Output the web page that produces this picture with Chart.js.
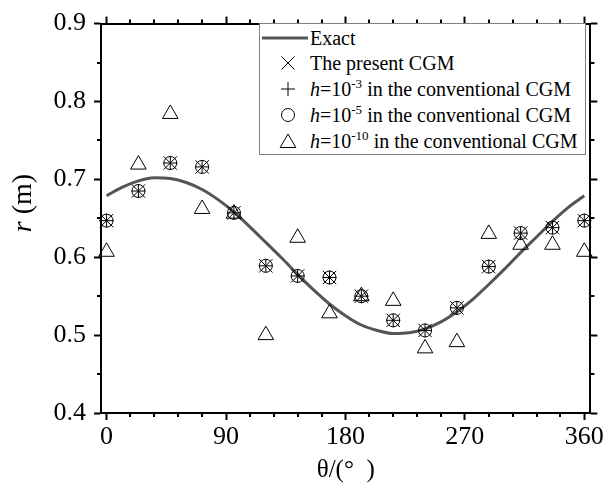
<!DOCTYPE html>
<html>
<head>
<meta charset="utf-8">
<script src="https://cdn.jsdelivr.net/npm/chart.js@4.4.1/dist/chart.umd.min.js"></script>
<style>
  html, body { margin: 0; padding: 0; background: #fff; }
  #wrap { position: relative; width: 606px; height: 485px; font-family: "Liberation Serif", serif; }
  canvas { position: absolute; left: 0; top: 0; }
  #ytitle { position: absolute; left: -28px; top: 188px; width: 100px; height: 30px; line-height: 30px;
            text-align: center; font-size: 28px; transform: rotate(-90deg); color: #000; white-space: nowrap; }
  #legend { position: absolute; left: 259px; top: 23px; width: 327px; height: 132px; box-sizing: border-box;
            border: 1px solid #808080; background: #fff; }
  .lrow { position: absolute; left: 0; height: 20px; width: 327px; }
  .lmark { position: absolute; left: 0; top: 0; }
  .ltext { position: absolute; left: 50px; top: 0; font-size: 20px; line-height: 20px; white-space: nowrap; color: #000; }
  .ltext sup { font-size: 13px; vertical-align: 0; position: relative; top: -8px; }
</style>
</head>
<body>
<div id="wrap">
  <canvas id="c" width="606" height="485"></canvas>
  <div id="ytitle"><i>r</i> (m)</div>
  <div id="legend"></div>
</div>
<script>
// ---- data ----
const thetaPoints = [0, 24, 48, 72, 96, 120, 144, 168, 192, 216, 240, 264, 288, 312, 336, 360];
const presentCGM  = [0.647, 0.685, 0.721, 0.716, 0.657, 0.589, 0.576, 0.574, 0.550, 0.519, 0.506, 0.535, 0.588, 0.631, 0.638, 0.647];
const convH3      = [0.647, 0.685, 0.721, 0.716, 0.657, 0.589, 0.576, 0.574, 0.550, 0.519, 0.506, 0.535, 0.588, 0.631, 0.638, 0.647];
const convH5      = [0.647, 0.685, 0.721, 0.716, 0.657, 0.589, 0.576, 0.574, 0.550, 0.519, 0.506, 0.535, 0.588, 0.631, 0.638, 0.647];
const convH10     = [0.607, 0.719, 0.784, 0.662, 0.656, 0.500, 0.625, 0.528, 0.550, 0.544, 0.483, 0.491, 0.630, 0.616, 0.616, 0.607];

const thetaExact = [0, 12, 24, 36, 48, 60, 72, 84, 96, 108, 120, 132, 144, 156, 168, 180,
                    192, 204, 216, 228, 240, 252, 264, 276, 288, 300, 312, 324, 336, 348, 360];
const rExact     = [0.679, 0.690, 0.698, 0.702, 0.701, 0.696, 0.687, 0.674, 0.658, 0.639, 0.619, 0.599, 0.578, 0.558, 0.540, 0.525,
                    0.513, 0.506, 0.502, 0.503, 0.508, 0.517, 0.530, 0.546, 0.565, 0.585, 0.606, 0.626, 0.646, 0.664, 0.679];

const xTickValues = [0, 90, 180, 270, 360];
const xMinorValues = [18, 36, 54, 72, 108, 126, 144, 162, 198, 216, 234, 252, 288, 306, 324, 342];
const yTickValues = [0.4, 0.5, 0.6, 0.7, 0.8, 0.9];
const yMinorValues = [0.45, 0.55, 0.65, 0.75, 0.85];

const legendLabels = [
  'Exact',
  'The present CGM',
  '<i>h</i>=10<sup>-3</sup> in the conventional CGM',
  '<i>h</i>=10<sup>-5</sup> in the conventional CGM',
  '<i>h</i>=10<sup>-10</sup> in the conventional CGM'
];

// ---- chart ----
const toXY = (xs, ys) => xs.map((x, i) => ({ x: x, y: ys[i] }));
const FONT = 'Liberation Serif';
Chart.defaults.font.family = FONT;
Chart.defaults.color = '#000';

const minorTicks = {
  id: 'minorTicks',
  afterDraw(chart) {
    const ctx = chart.ctx;
    const { x, y, x2, y2 } = chart.scales;
    const len = 4;
    ctx.save();
    ctx.strokeStyle = '#000';
    ctx.lineWidth = 2;
    ctx.beginPath();
    xMinorValues.forEach(v => {
      const px = Math.round(x.getPixelForValue(v));
      ctx.moveTo(px, x.top); ctx.lineTo(px, x.top + len);
      ctx.moveTo(px, x2.bottom); ctx.lineTo(px, x2.bottom - len);
    });
    yMinorValues.forEach(v => {
      const py = Math.round(y.getPixelForValue(v));
      ctx.moveTo(y.right, py); ctx.lineTo(y.right - len, py);
      ctx.moveTo(y2.left, py); ctx.lineTo(y2.left + len, py);
    });
    ctx.stroke();
    ctx.restore();
  }
};

const gridOpts = { drawOnChartArea: false, drawTicks: true, tickLength: 7, tickWidth: 2, tickColor: '#000' };
const borderOpts = { display: true, color: '#000', width: 2 };
const setXTicks = s => { s.ticks = xTickValues.map(v => ({ value: v })); };
const setYTicks = s => { s.ticks = yTickValues.map(v => ({ value: v })); };

const markerBase = { showLine: false, pointBorderColor: '#000', pointBackgroundColor: 'rgba(0,0,0,0)', pointBorderWidth: 1, clip: false };

new Chart(document.getElementById('c'), {
  type: 'scatter',
  data: {
    datasets: [
      Object.assign({}, markerBase, { label: 'The present CGM', data: toXY(thetaPoints, presentCGM), pointStyle: 'crossRot', pointRadius: 9.5, pointHoverRadius: 9.5 }),
      Object.assign({}, markerBase, { label: 'h=10-3', data: toXY(thetaPoints, convH3), pointStyle: 'cross', pointRadius: 7, pointHoverRadius: 7 }),
      Object.assign({}, markerBase, { label: 'h=10-5', data: toXY(thetaPoints, convH5), pointStyle: 'circle', pointRadius: 6.5, pointHoverRadius: 6.5 }),
      Object.assign({}, markerBase, { label: 'h=10-10', data: toXY(thetaPoints, convH10), pointStyle: 'triangle', pointRadius: 9, pointHoverRadius: 9 }),
      { label: 'Exact', data: toXY(thetaExact, rExact), showLine: true, borderColor: '#555555', borderWidth: 3,
        pointRadius: 0, pointHoverRadius: 0, tension: 0.4, cubicInterpolationMode: 'monotone', fill: false }
    ]
  },
  options: {
    responsive: false,
    animation: false,
    devicePixelRatio: 1,
    layout: { padding: 0 },
    plugins: { legend: { display: false }, tooltip: { enabled: false } },
    scales: {
      x: {
        type: 'linear', position: 'bottom', min: -4.2, max: 364.6,
        afterBuildTicks: setXTicks,
        afterFit: s => { s.height = 72; },
        grid: gridOpts, border: borderOpts,
        ticks: { color: '#000', font: { family: FONT, size: 26 }, padding: 2, maxRotation: 0, autoSkip: false },
        title: { display: true, text: 'θ/(°  )', color: '#000', font: { family: FONT, size: 25 }, padding: { top: 0, bottom: 0 } }
      },
      x2: {
        type: 'linear', position: 'top', min: -4.2, max: 364.6,
        afterBuildTicks: setXTicks,
        afterFit: s => { s.height = 14; },
        grid: gridOpts, border: borderOpts,
        ticks: { display: false }
      },
      y: {
        type: 'linear', position: 'left', min: 0.4, max: 0.9,
        afterBuildTicks: setYTicks,
        afterFit: s => { s.width = 101; },
        grid: gridOpts, border: borderOpts,
        ticks: { color: '#000', font: { family: FONT, size: 26 }, padding: 8, autoSkip: false, callback: v => Number(v).toFixed(1) }
      },
      y2: {
        type: 'linear', position: 'right', min: 0.4, max: 0.9,
        afterBuildTicks: setYTicks,
        afterFit: s => { s.width = 12; },
        grid: gridOpts, border: borderOpts,
        ticks: { display: false }
      }
    }
  },
  plugins: [minorTicks]
});

// ---- legend (HTML, real text) ----
const legendMarkers = [
  '<svg width="50" height="20"><line x1="2" y1="10" x2="48" y2="10" stroke="#555" stroke-width="3"/></svg>',
  '<svg width="50" height="20"><path d="M21.5 3.5 L34.5 16.5 M34.5 3.5 L21.5 16.5" stroke="#000" stroke-width="1" fill="none"/></svg>',
  '<svg width="50" height="20"><path d="M21 10 L35 10 M28 3 L28 17" stroke="#000" stroke-width="1" fill="none"/></svg>',
  '<svg width="50" height="20"><circle cx="28" cy="10" r="6.5" stroke="#000" stroke-width="1" fill="none"/></svg>',
  '<svg width="50" height="20"><path d="M28 3 L35.8 16.5 L20.2 16.5 Z" stroke="#000" stroke-width="1" fill="none"/></svg>'
];
const legendRowCenters = [38, 63, 89, 115, 141];
const leg = document.getElementById('legend');
legendLabels.forEach((txt, i) => {
  const row = document.createElement('div');
  row.className = 'lrow';
  row.style.top = (legendRowCenters[i] - 23 - 1 - 10) + 'px';
  row.innerHTML = '<div class="lmark">' + legendMarkers[i] + '</div><div class="ltext">' + txt + '</div>';
  leg.appendChild(row);
});
</script>
</body>
</html>
